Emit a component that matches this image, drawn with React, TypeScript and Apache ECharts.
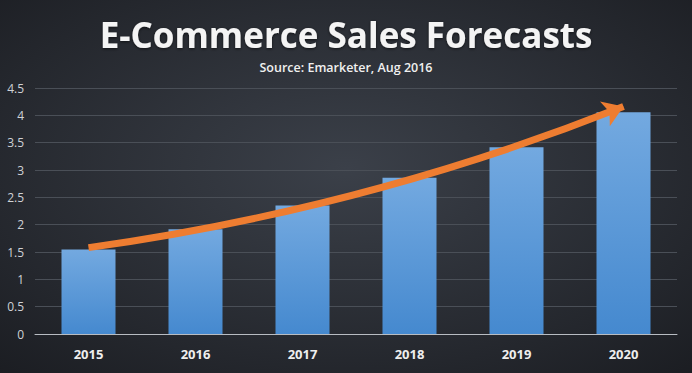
import React, { useEffect, useRef } from "react";
import * as echarts from "echarts";

const categories = ["2015", "2016", "2017", "2018", "2019", "2020"];
const sales = [1.548, 1.915, 2.352, 2.86, 3.418, 4.058];
const yTicks = [0, 0.5, 1, 1.5, 2, 2.5, 3, 3.5, 4, 4.5];
const trendStart = [0, 1.58];
const trendEnd = [5, 4.16];

export default function App() {
  const ref = useRef<HTMLDivElement>(null);
  useEffect(() => {
    if (!ref.current) return;
    const chart = echarts.init(ref.current, undefined, { renderer: "svg" });
    chart.setOption({
      animation: false,
      backgroundColor: {
        type: "radial",
        x: 0.5,
        y: 0.45,
        r: 0.75,
        colorStops: [
          { offset: 0, color: "#3b4049" },
          { offset: 1, color: "#1b1d22" },
        ],
      },
      title: [
        {
          text: "E-Commerce Sales Forecasts",
          left: "center",
          top: 12,
          textStyle: {
            color: "#f4f4f4",
            fontFamily: "Open Sans",
            fontWeight: 700,
            fontSize: 35,
            textShadowColor: "rgba(0,0,0,0.6)",
            textShadowBlur: 3,
            textShadowOffsetY: 1,
          },
        },
        {
          text: "Source: Emarketer, Aug 2016",
          left: "center",
          top: 56,
          textStyle: {
            color: "#f0f0f0",
            fontFamily: "Open Sans",
            fontWeight: 600,
            fontSize: 12.5,
          },
        },
      ],
      grid: { left: 35, right: 15, top: 88, bottom: 39, containLabel: false },
      xAxis: [
        {
          type: "category",
          data: categories,
          axisLine: { show: true, lineStyle: { color: "#b8bcc2", width: 1 } },
          axisTick: { show: false },
          axisLabel: {
            color: "#eeeeee",
            fontFamily: "Open Sans",
            fontWeight: 700,
            fontSize: 13,
            margin: 13,
          },
        },
        {
          type: "value",
          min: -0.5,
          max: 5.5,
          show: false,
        },
      ],
      yAxis: {
        type: "value",
        min: yTicks[0],
        max: yTicks[yTicks.length - 1],
        interval: 0.5,
        axisLine: { show: false },
        axisTick: { show: false },
        axisLabel: {
          color: "#cfd2d6",
          fontFamily: "Open Sans",
          fontSize: 12,
          margin: 11,
        },
        splitLine: { lineStyle: { color: "#4a4f57", width: 1 } },
      },
      series: [
        {
          type: "bar",
          data: sales,
          barWidth: 54,
          itemStyle: {
            color: {
              type: "linear",
              x: 0,
              y: 0,
              x2: 0,
              y2: 1,
              colorStops: [
                { offset: 0, color: "#73a9e0" },
                { offset: 1, color: "#4589cf" },
              ],
            },
          },
        },
        {
          type: "lines",
          coordinateSystem: "cartesian2d",
          xAxisIndex: 1,
          yAxisIndex: 0,
          symbol: ["none", "arrow"],
          symbolSize: [0, 20],
          lineStyle: { color: "#ee7d31", width: 7, curveness: -0.06, opacity: 1 },
          data: [{ coords: [trendStart, trendEnd] }],
          z: 5,
        },
      ],
    });
    return () => chart.dispose();
  }, []);
  return <div ref={ref} style={{ width: 692, height: 373, position: "absolute", left: 0, top: 0 }} />;
}
